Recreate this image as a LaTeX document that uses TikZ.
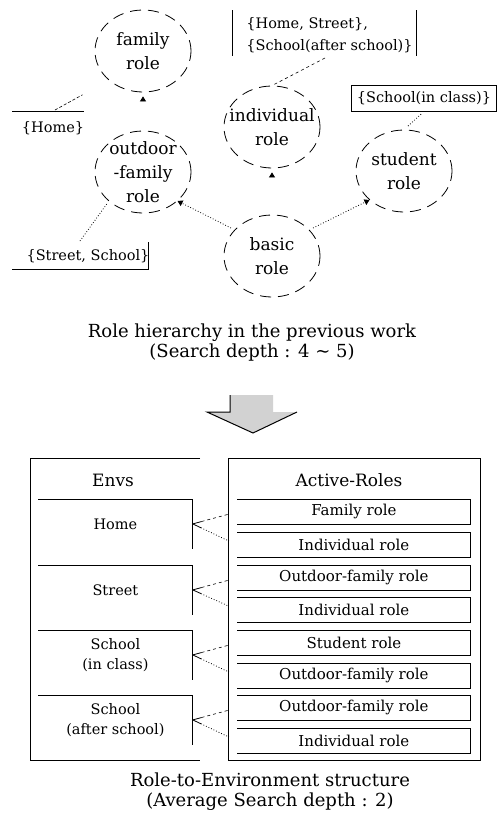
\documentclass[tikz,border=0pt]{standalone}
\usepackage{fontspec}
\setmainfont{DejaVu Serif}
\usetikzlibrary{shapes.geometric,arrows.meta,calc}

\tikzset{
	rolecirc/.style={ellipse, draw, line width=0.8pt, dash pattern=on 11pt off 7pt, minimum width=96pt, minimum height=82pt, inner sep=0pt},
	roletext/.style={font=\fontsize{17}{24}\selectfont, align=center, inner sep=0pt},
	lbl/.style={font=\fontsize{14.5}{22}\selectfont, align=left, inner sep=0pt},
	hdr/.style={font=\fontsize{17}{20}\selectfont},
	envbox/.style={minimum width=154pt, minimum height=49pt, inner sep=0pt, align=center, font=\fontsize{14.5}{20}\selectfont},
	rolebox/.style={minimum width=233pt, minimum height=25pt, inner sep=0pt, font=\fontsize{15}{16}\selectfont},
	caption/.style={font=\fontsize{18}{20}\selectfont, align=center},
	tip/.style={-{Triangle[color=black,width=6pt,length=5pt]}, draw=white, shorten >=4pt},
}

\begin{document}
\begin{tikzpicture}[x=1pt, y=-1pt, line width=0.8pt]
	\useasboundingbox (0,0) rectangle (501,814);

	% role hierarchy
	\node[rolecirc, label={[roletext]center:family\\role}] (family) at (143,51) {};
	\node[rolecirc, label={[roletext]center:outdoor\\-family\\role}] (outdoor) at (143,172) {};
	\node[rolecirc, label={[roletext]center:individual\\role}] (indiv) at (272,127) {};
	\node[rolecirc, label={[roletext]center:student\\role}] (student) at (404,171) {};
	\node[rolecirc, label={[roletext]center:basic\\role}] (basic) at (272,256) {};

	\draw[tip] (outdoor.north) -- (family.south);
	\draw[tip] (basic.north) -- (indiv.south);
	\draw[dotted, -{Triangle[width=6pt,length=5pt]}, shorten <=4pt] (basic.145) -- (outdoor.-40);
	\draw[dotted, -{Triangle[width=6pt,length=5pt]}, shorten <=4pt] (basic.35) -- (student.220);

	% environment labels
	\node[lbl] (homelbl) at (53,128) {\{Home\}};
	\draw (12,111) -- (84,111);
	\coordinate (homept) at (55,110);
	\draw[densely dashed, line width=0.6pt, shorten >=30pt] (homept) -- (family.south west);

	\node[lbl, anchor=west] (hslbl) at (246,35) {\{Home, Street\},\\\{School(after school)\}};
	\draw (232,10) -- (232,56);
	\draw (416,10) -- (416,56);
	\coordinate (hspt) at (325,58);
	\draw[dash pattern=on 3pt off 3pt, line width=0.6pt, shorten >=2pt] (hspt) -- (indiv.north);

	\node[lbl, draw, line width=1pt, minimum width=145pt, minimum height=26pt] (sclbl) at (424,98) {\{School(in class)\}};
	\draw[dotted, shorten <=4pt, shorten >=4pt] (sclbl.south) -- (student.north);

	\node[lbl] (sslbl) at (88,256) {\{Street, School\}};
	\draw (12,269) -- (148,269) -- (148,242);
	\coordinate (sspt) at (80,241);
	\draw[dotted, shorten >=3pt] (sspt) -- (outdoor.south west);

	\node[caption] (cap1) at (252,343) {Role hierarchy in the previous work\\(Search depth : 4 \textasciitilde{} 5)};

	% big arrow
	\fill[gray!35] (230,395) -- (273,395) -- (273,412) -- (297,412) -- (253,433) -- (207,412) -- (230,412) -- cycle;
	\draw[line width=1pt] (230,395) -- (230,412) -- (207,412) -- (253,433) -- (297,412);

	% role-to-environment structure
	\draw[line width=1pt] (200,458) -- (30,458) -- (30,760) -- (200,760);
	\draw[line width=1pt] (228,458) rectangle (480,760);
	\node[hdr] (envs) at (113,480) {Envs};
	\node[hdr] (actr) at (349,480) {Active-Roles};

	\foreach \n/\y/\txt in {home/499/Home, street/565/Street, incls/630/School\\(in class), after/695/School\\(after school)}{
		\node[envbox, anchor=north west] (\n) at (38,\y) {\txt};
		\draw[line width=1pt] (\n.north west) -- (\n.north east) -- (\n.south east);
	}

	\foreach \i/\y/\txt in {1/499/Family role, 2/532/Individual role, 3/565/Outdoor-family role, 4/597/Individual role, 5/630/Student role, 6/663/Outdoor-family role, 7/695/Outdoor-family role, 8/728/Individual role}{
		\node[rolebox, anchor=north west] (r\i) at (237,\y) {\txt};
		\draw[line width=1pt] (r\i.north west) -- (r\i.north east) -- (r\i.south east) -- (r\i.south west);
	}

	\foreach \e/\a/\b in {home/r1/r2, street/r3/r4, incls/r5/r6, after/r7/r8}{
		\draw (\e.east) -- ($(\e.east)!9pt!(\a.west)$);
		\draw (\e.east) -- ($(\e.east)!9pt!(\b.west)$);
		\draw[dashed, line width=0.6pt, shorten <=9pt, shorten >=9pt] (\e.east) -- (\a.west);
		\draw[dotted, line width=0.8pt, shorten <=9pt, shorten >=9pt] (\e.east) -- (\b.west);
	}

	\node[caption] (cap2) at (270,792) {Role-to-Environment structure\\(Average Search depth : 2)};
\end{tikzpicture}
\end{document}
